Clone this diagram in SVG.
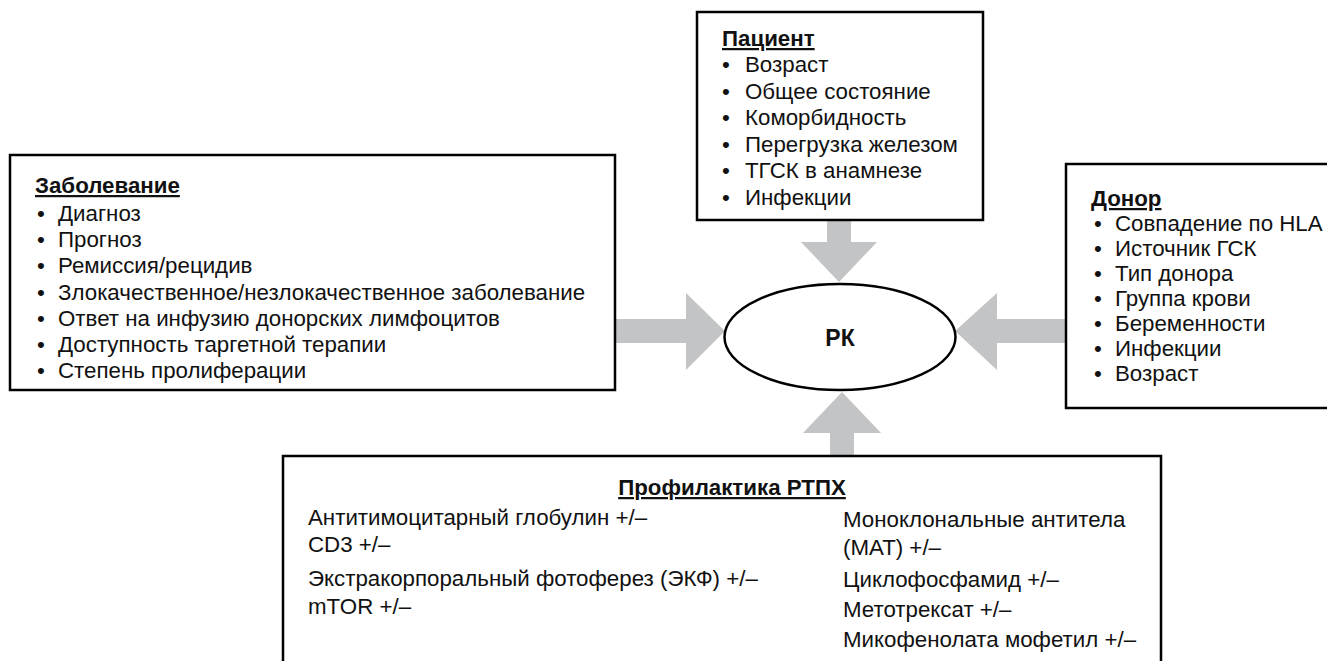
<svg xmlns="http://www.w3.org/2000/svg" width="1327" height="661" viewBox="0 0 1327 661">
  <style>
    .box { fill: #fff; stroke: #000; stroke-width: 2.5; }
    .arrow { fill: #c3c4c6; stroke: none; }
    text { font-family: "Liberation Sans", Arial, sans-serif; font-size: 22.3px; fill: #111; }
    .title { font-weight: bold; text-decoration: underline; }
    .center { text-anchor: middle; font-weight: bold; font-size: 23px; }
  </style>
  <rect width="1327" height="661" fill="#fff"/>

  <!-- block arrows pointing at the central node -->
  <g id="connectors">
    <!-- from top -->
    <polygon class="arrow" points="827,218 851,218 851,242 877,242 839,282 801,242 827,242"/>
    <!-- from left -->
    <polygon class="arrow" points="613,319 686,319 686,293 725,331 686,370 686,343 613,343"/>
    <!-- from right -->
    <polygon class="arrow" points="1068,319 997,319 997,293 955,331 997,370 997,343 1068,343"/>
    <!-- from bottom -->
    <polygon class="arrow" points="830,458 854,458 854,433 881,433 842,392 803,433 830,433"/>
  </g>

  <g id="patient">
    <rect class="box" x="697" y="12" width="286" height="208"/>
    <text>
      <tspan class="title" x="722" y="46">Пациент</tspan>
      <tspan x="722" y="72">•</tspan><tspan x="745" y="72">Возраст</tspan>
      <tspan x="722" y="99">•</tspan><tspan x="745" y="99">Общее состояние</tspan>
      <tspan x="722" y="125">•</tspan><tspan x="745" y="125">Коморбидность</tspan>
      <tspan x="722" y="152">•</tspan><tspan x="745" y="152">Перегрузка железом</tspan>
      <tspan x="722" y="178">•</tspan><tspan x="745" y="178">ТГСК в анамнезе</tspan>
      <tspan x="722" y="205">•</tspan><tspan x="745" y="205">Инфекции</tspan>
    </text>
  </g>

  <g id="disease">
    <rect class="box" x="10" y="155" width="605" height="235"/>
    <text>
      <tspan class="title" x="35" y="193">Заболевание</tspan>
      <tspan x="37" y="221">•</tspan><tspan x="58" y="221">Диагноз</tspan>
      <tspan x="37" y="247">•</tspan><tspan x="58" y="247">Прогноз</tspan>
      <tspan x="37" y="273">•</tspan><tspan x="58" y="273">Ремиссия/рецидив</tspan>
      <tspan x="37" y="300">•</tspan><tspan x="58" y="300">Злокачественное/незлокачественное заболевание</tspan>
      <tspan x="37" y="326">•</tspan><tspan x="58" y="326">Ответ на инфузию донорских лимфоцитов</tspan>
      <tspan x="37" y="352">•</tspan><tspan x="58" y="352">Доступность таргетной терапии</tspan>
      <tspan x="37" y="378">•</tspan><tspan x="58" y="378">Степень пролиферации</tspan>
    </text>
  </g>

  <g id="donor">
    <rect class="box" x="1066" y="164" width="270" height="244"/>
    <text>
      <tspan class="title" x="1091" y="206">Донор</tspan>
      <tspan x="1094" y="231">•</tspan><tspan x="1115" y="231">Совпадение по HLA</tspan>
      <tspan x="1094" y="256">•</tspan><tspan x="1115" y="256">Источник ГСК</tspan>
      <tspan x="1094" y="281">•</tspan><tspan x="1115" y="281">Тип донора</tspan>
      <tspan x="1094" y="306">•</tspan><tspan x="1115" y="306">Группа крови</tspan>
      <tspan x="1094" y="331">•</tspan><tspan x="1115" y="331">Беременности</tspan>
      <tspan x="1094" y="356">•</tspan><tspan x="1115" y="356">Инфекции</tspan>
      <tspan x="1094" y="381">•</tspan><tspan x="1115" y="381">Возраст</tspan>
    </text>
  </g>

  <g id="rk">
    <ellipse cx="840" cy="337" rx="115.5" ry="53" fill="#fff" stroke="#000" stroke-width="2.5"/>
    <text class="center" x="840" y="346">РК</text>
  </g>

  <g id="prophylaxis">
    <rect class="box" x="283" y="456" width="878" height="220"/>
    <text class="title" x="732" y="495" text-anchor="middle">Профилактика РТПХ</text>
    <text>
      <tspan x="308" y="525">Антитимоцитарный глобулин +/–</tspan>
      <tspan x="308" y="552">CD3 +/–</tspan>
      <tspan x="308" y="586">Экстракорпоральный фотоферез (ЭКФ) +/–</tspan>
      <tspan x="308" y="614">mTOR +/–</tspan>
    </text>
    <text>
      <tspan x="843" y="527">Моноклональные антитела</tspan>
      <tspan x="843" y="555">(МАТ) +/–</tspan>
      <tspan x="843" y="587">Циклофосфамид +/–</tspan>
      <tspan x="843" y="617">Метотрексат +/–</tspan>
      <tspan x="843" y="647">Микофенолата мофетил +/–</tspan>
    </text>
  </g>
</svg>
